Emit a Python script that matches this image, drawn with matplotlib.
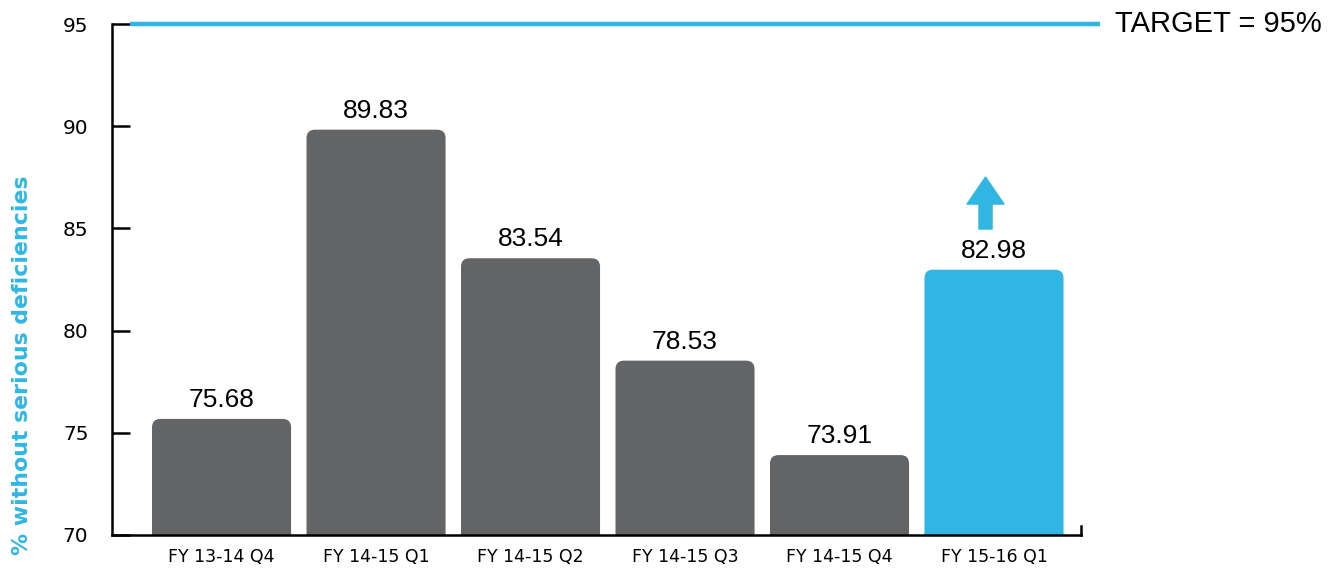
import numpy as np
import matplotlib
matplotlib.use('Agg')
import matplotlib.pyplot as plt
from matplotlib.patches import FancyBboxPatch
from matplotlib.ticker import MultipleLocator

# data
quarters = ['FY 13-14 Q4', 'FY 14-15 Q1', 'FY 14-15 Q2', 'FY 14-15 Q3', 'FY 14-15 Q4', 'FY 15-16 Q1']
values = [75.68, 89.83, 83.54, 78.53, 73.91, 82.98]
target = 95
target_label = 'TARGET = 95%'
ylabel = '% without serious deficiencies'

GRAY = '#636466'
BLUE = '#31b6e3'

fig = plt.figure(figsize=(13.34, 5.69), dpi=100)
ax = fig.add_axes([112/1334, 34/569, (1081-112)/1334, (535-24)/569])

ax.set_xlim(-0.709, 5.563)
ax.set_ylim(70, 95)

# bars with rounded tops (bottom corners hidden below the axis)
width = 0.9
r = 0.055
px_x = 154.5   # px per x unit
px_y = 20.44   # px per y unit
for i, v in enumerate(values):
    color = BLUE if i == len(values) - 1 else GRAY
    p = FancyBboxPatch((i - width/2, 65), width, v - 65,
                       boxstyle=f'round,pad=0,rounding_size={r}',
                       mutation_aspect=px_x/px_y, fc=color, ec='none', zorder=2)
    ax.add_patch(p)
    ax.annotate(f'{v:.2f}', xy=(i, v), xytext=(0, 5), textcoords='offset points',
                ha='center', va='bottom', fontsize=19, family='Liberation Sans',
                color='black')

# target line, extends beyond the axes
ax.plot([-0.592, 5.686], [target, target], color=BLUE, lw=3.2, clip_on=False,
        solid_capstyle='butt', zorder=3)
ax.text(5.78, target, target_label, ha='left', va='center', fontsize=21,
        family='Liberation Sans', color='black', clip_on=False)

# up arrow over the last bar
last = len(values) - 1
ax.annotate('', xy=(last - 0.055, values[last] + 4.53), xytext=(last - 0.055, values[last] + 1.99),
            arrowprops=dict(arrowstyle='simple,head_width=2.66,head_length=1.94,tail_width=0.94',
                            mutation_scale=10, color=BLUE, shrinkA=0, shrinkB=0),
            annotation_clip=False)

# axes styling
ax.spines['top'].set_visible(False)
ax.spines['left'].set_linewidth(1.8)
ax.spines['bottom'].set_linewidth(1.8)
ax.spines['right'].set_linewidth(1.8)
ax.spines['right'].set_bounds(70, 70.45)
ax.yaxis.set_major_locator(MultipleLocator(5))
ax.tick_params(axis='y', direction='in', length=13, width=1.8, pad=17, labelsize=14.5)
ax.tick_params(axis='x', length=0, pad=9, labelsize=12.5)
ax.set_xticks(range(len(quarters)))
ax.set_xticklabels(quarters)

fig.text(22/1334, (569-365)/569, ylabel, rotation=90, ha='center', va='center',
         fontsize=15.8, fontweight='bold', color=BLUE)

fig.savefig('out.png', dpi=100)
